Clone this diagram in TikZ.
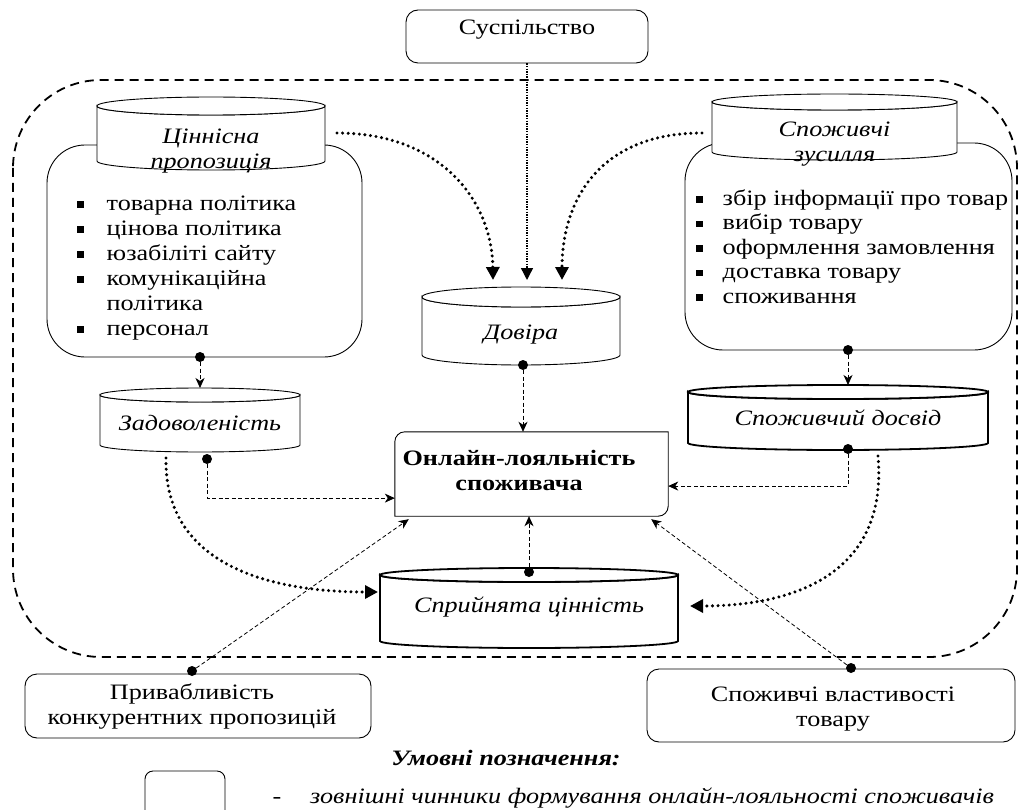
\documentclass[tikz,border=0pt]{standalone}
\usepackage{fontspec}
\setmainfont{Liberation Serif}[FakeStretch=1.19]
\usetikzlibrary{arrows.meta,calc}
\newcommand\fsz{\fontsize{22}{25}\selectfont}
\newcommand\sqb{\rule[0.12em]{6.5pt}{6.5pt}}
\newcommand\cyl[9]{%
  \pgfmathsetmacro\cx{(#2+#3)/2}%
  \pgfmathsetmacro\rx{(#3-#2)/2}%
  \pgfmathsetmacro\ya{#4+#6}%
  \pgfmathsetmacro\yb{#5-#6}%
  \filldraw[fill=white,#7] (#2,\ya) -- (#2,\yb) arc[start angle=180,end angle=0,x radius=\rx,y radius=#6] -- (#3,\ya) arc[start angle=0,end angle=180,x radius=\rx,y radius=#6] -- cycle;
  \filldraw[fill=white,#7] (\cx,\ya) ellipse[x radius=\rx,y radius=#6];
  \coordinate (#1-top) at (\cx,#4);
  \coordinate (#1-bot) at (\cx,#5);
  \coordinate (#1-left) at (#2,#8);
  \coordinate (#1-right) at (#3,#8);
  \node[cyltext] (#1) at (\cx,#8) {#9};
}
\tikzset{
  bx/.style={draw, line width=0.9pt, rounded corners=12pt},
  cyltext/.style={font=\fsz\itshape, align=center},
  cylthin/.style={line width=0.9pt},
  cylthick/.style={line width=1.8pt},
  dot/.style={circle, fill=black, inner sep=0pt, minimum size=10pt},
  conn/.style={line width=0.8pt, dash pattern=on 4pt off 2.5pt, -{Stealth[length=10pt,width=9pt,inset=3pt]}},
  heavy/.style={line width=3.4pt, line cap=round, dash pattern=on 0pt off 5.6pt, -{Triangle[length=13pt,width=13pt]}},
  lightdots/.style={line width=1.4pt, dash pattern=on 1.4pt off 1.2pt, -{Triangle[length=12pt,width=12pt]}},
  outerframe/.style={line width=1.8pt, dash pattern=on 9pt off 6pt, rounded corners=88pt},
}
\begin{document}
\begin{tikzpicture}[x=1pt,y=-1pt, every node/.style={inner sep=0pt}]
\useasboundingbox (0,0) rectangle (1019,810);
\fill[white] (0,0) rectangle (1019,810);

% outer dashed frame
\draw[outerframe] (13,80) rectangle (1017,657);

% top box
\node[bx, minimum width=242pt, minimum height=53pt] (soc) at (527,36.5) {};
\node[font=\fsz] (soct) at (527,30) {Суспільство};

% left and right boxes
\node[bx, rounded corners=38pt, minimum width=315pt, minimum height=212pt] (lbox) at (204.5,251) {};
\node[bx, rounded corners=38pt, minimum width=327pt, minimum height=207pt] (rbox) at (848.5,246.5) {};

\node[anchor=north west, font=\fsz, align=left] (llist) at (77,192.5) {%
\begin{tabular}{@{}l@{\hspace{23pt}}l@{}}
\sqb & товарна політика\\
\sqb & цінова політика\\
\sqb & юзабіліті сайту\\
\sqb & комунікаційна\\
     & політика\\
\sqb & персонал
\end{tabular}};
\node[anchor=north west, font=\fontsize{22}{24.5}\selectfont, align=left] (rlist) at (696,188) {%
\begin{tabular}{@{}l@{\hspace{20pt}}l@{}}
\sqb & збір інформації про товар\\
\sqb & вибір товару\\
\sqb & оформлення замовлення\\
\sqb & доставка товару\\
\sqb & споживання
\end{tabular}};

% cylinders
\cyl{cv}{97}{325}{97}{170}{9}{cylthin}{151}{Ціннісна\\пропозиція}
\cyl{sz}{712}{957}{94}{160}{8}{cylthin}{144}{Споживчі\\зусилля}
\cyl{dov}{422}{620}{287}{365}{10}{cylthin}{335}{Довіра}
\cyl{zad}{100}{300}{388}{452}{7}{cylthin}{423}{Задоволеність}
\cyl{sd}{688}{988}{385}{450}{7}{cylthick}{418}{Споживчий досвід}
\cyl{sc}{380}{678}{568}{648}{7}{cylthick}{607}{Сприйнята цінність}

% central box
\node[minimum width=273pt, minimum height=84pt] (onl) at (531.5,474) {};
\draw[line width=0.9pt] (onl.north) [rounded corners=10pt] -- (onl.north west) -- (onl.west) [sharp corners] -- (onl.south west) -- (onl.south) [rounded corners=10pt] -- (onl.south east) -- (onl.east) [sharp corners] -- (onl.north east) -- cycle;
\node[font=\fsz\bfseries, align=center] (onlt) at (519,470) {Онлайн-лояльність\\споживача};

% bottom boxes
\node[bx, minimum width=346pt, minimum height=64pt] (pk) at (198,706) {};
\node[font=\fsz, align=center] (pkt) at (192,706) {Привабливість\\конкурентних пропозицій};
\node[bx, minimum width=368pt, minimum height=73pt] (sv) at (831,705.5) {};
\node[font=\fsz, align=center] (svt) at (833,709) {Споживчі властивості\\товару};

% legend
\node[font=\fsz\bfseries\itshape] (lgt) at (506,758) {Умовні позначення:};
\node[bx, rounded corners=8pt, minimum width=80pt, minimum height=60pt] (lgbox) at (185,801) {};
\node[font=\fsz] (lgdash) at (277,800) {-};
\node[font=\fsz\itshape, anchor=west] (lgtx) at (310,798) {зовнішні чинники формування онлайн-лояльності споживачів};

% dots
\node[dot] (dA) at (200,357) {};
\node[dot] (dB) at (207,459) {};
\node[dot] (dC) at (523,365) {};
\node[dot] (dD) at (848,350) {};
\node[dot] (dE) at (848,449) {};
\node[dot] (dF) at (529,572) {};
\node[dot] (dG) at (192,671) {};
\node[dot] (dH) at (851,668) {};

% dashed connectors
\draw[conn] (dA) -- (dA |- zad-top);
\draw[conn] (dB) |- ($(onl.south west)!0.214!(onl.north west)$);
\draw[conn] (dC) -- (dC |- onl.north);
\draw[conn] (dD) -- (dD |- sd-top);
\draw[conn] (dE) |- ($(onl.south east)!0.357!(onl.north east)$);
\draw[conn] (dF) -- (dF |- onl.south);
\draw[conn] (dG) -- ($(onl.south west)+(14,3)$);
\draw[conn] (dH) -- ($(onl.south east)+(-17,3)$);

% dotted arrows into trust
\draw[heavy] ($(cv-right)+(12,-18)$) .. controls (440,133) and (492,200) .. ($(dov-top)+(-28,-7)$);
\draw[heavy] ($(sz-left)+(-10,-11)$) .. controls (600,133) and (562,200) .. ($(dov-top)+(41,-7)$);
\draw[lightdots] (soc.south) -- (soc.south |- {$(dov-top)+(0,-7)$});

% dotted arrows into perceived value
\draw[heavy] ($(zad-bot)+(-34,6)$) .. controls (164,560) and (260,592) .. ($(sc-left)+(-2,-15)$);
\draw[heavy] ($(sd-bot)+(40,6)$) .. controls (888,570) and (800,606) .. ($(sc-right)+(12,-1)$);
\end{tikzpicture}
\end{document}
